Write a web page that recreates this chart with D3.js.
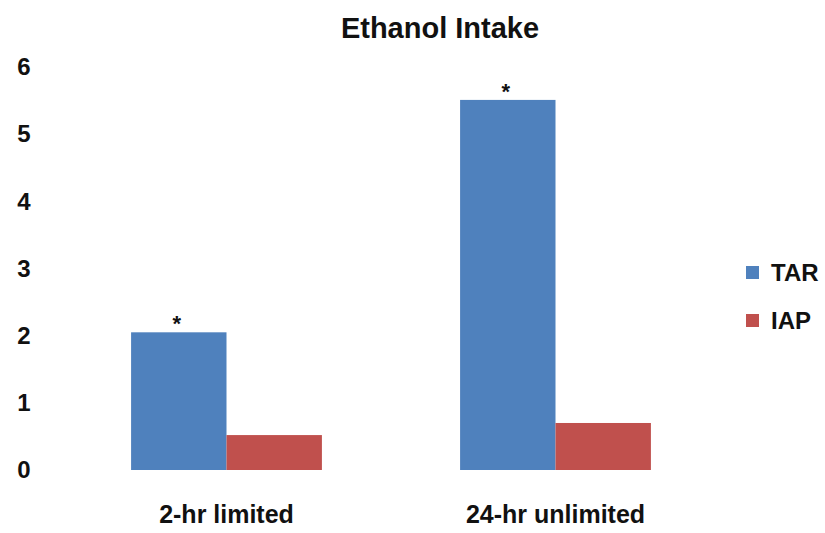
<!DOCTYPE html>
<html>
<head>
<meta charset="utf-8">
<script src="https://cdn.jsdelivr.net/npm/d3@7"></script>
<style>
  html, body { margin: 0; padding: 0; background: #fff; }
  svg text { font-family: "Liberation Sans", Arial, sans-serif; fill: #111; }
</style>
</head>
<body>
<svg id="chart" width="825" height="533"></svg>
<script>
// Ethanol intake by access condition
const categories = ["2-hr limited", "24-hr unlimited"];
const seriesNames = ["TAR", "IAP"];
const tarValues = [2.05, 5.51];
const iapValues = [0.52, 0.70];
const yTicks = [0, 1, 2, 3, 4, 5, 6];
const significant = [true, true]; // asterisk above the TAR bar

const colors = { TAR: "#4f81bd", IAP: "#c0504d" };

const svg = d3.select("#chart");
const margin = { left: 62, right: 105, top: 67, bottom: 63 };
const W = 825, H = 533;

const x0 = d3.scaleBand()
  .domain(categories)
  .range([margin.left, W - margin.right])
  .paddingInner(0.42)
  .paddingOuter(0.21);

const x1 = d3.scaleBand()
  .domain(seriesNames)
  .range([0, x0.bandwidth()]);

const y = d3.scaleLinear()
  .domain([0, 6])
  .range([H - margin.bottom, margin.top]);

const rows = categories.map((c, i) => ({ cat: c, TAR: tarValues[i], IAP: iapValues[i], sig: significant[i] }));

// Bars
const groups = svg.append("g").selectAll("g")
  .data(rows).join("g")
  .attr("transform", d => `translate(${x0(d.cat)},0)`);

groups.selectAll("rect")
  .data(d => seriesNames.map(s => ({ s, v: d[s] })))
  .join("rect")
  .attr("x", d => x1(d.s))
  .attr("width", x1.bandwidth())
  .attr("y", d => y(d.v))
  .attr("height", d => y(0) - y(d.v))
  .attr("fill", d => colors[d.s]);

// Significance markers
groups.filter(d => d.sig).append("text")
  .attr("x", x1("TAR") + x1.bandwidth() / 2 - 2)
  .attr("y", d => y(d.TAR) - 1)
  .attr("text-anchor", "middle")
  .style("font-size", "22px")
  .style("font-weight", "bold")
  .text("*");

// Y axis (labels only)
const yAxis = d3.axisLeft(y).tickValues(yTicks).tickSize(0).tickPadding(0).tickFormat(d3.format("d"));
const yg = svg.append("g").attr("transform", "translate(24,0)").call(yAxis);
yg.select(".domain").remove();
yg.selectAll("text")
  .attr("text-anchor", "middle")
  .style("font-size", "24px")
  .style("font-weight", "bold")
  .style("font-family", "'Liberation Sans', Arial, sans-serif")
  .attr("fill", "#111");

// X axis (labels only)
const xAxis = d3.axisBottom(x0).tickSize(0).tickPadding(0);
const xg = svg.append("g").attr("transform", `translate(0,${H - 19})`).call(xAxis);
xg.select(".domain").remove();
xg.selectAll("text")
  .attr("dy", "0.35em")
  .style("font-size", "25px")
  .style("font-weight", "bold")
  .style("font-family", "'Liberation Sans', Arial, sans-serif")
  .attr("fill", "#111");

// Title
svg.append("text")
  .attr("x", 440).attr("y", 38)
  .attr("text-anchor", "middle")
  .style("font-size", "29px")
  .style("font-weight", "bold")
  .text("Ethanol Intake");

// Legend
const legend = svg.append("g").selectAll("g")
  .data(seriesNames).join("g")
  .attr("transform", (d, i) => `translate(746,${266 + i * 48})`);
legend.append("rect")
  .attr("width", 13).attr("height", 13)
  .attr("fill", d => colors[d]);
legend.append("text")
  .attr("x", 25).attr("y", 7).attr("dy", "0.35em")
  .style("font-size", "24px")
  .style("font-weight", "bold")
  .text(d => d);
</script>
</body>
</html>
